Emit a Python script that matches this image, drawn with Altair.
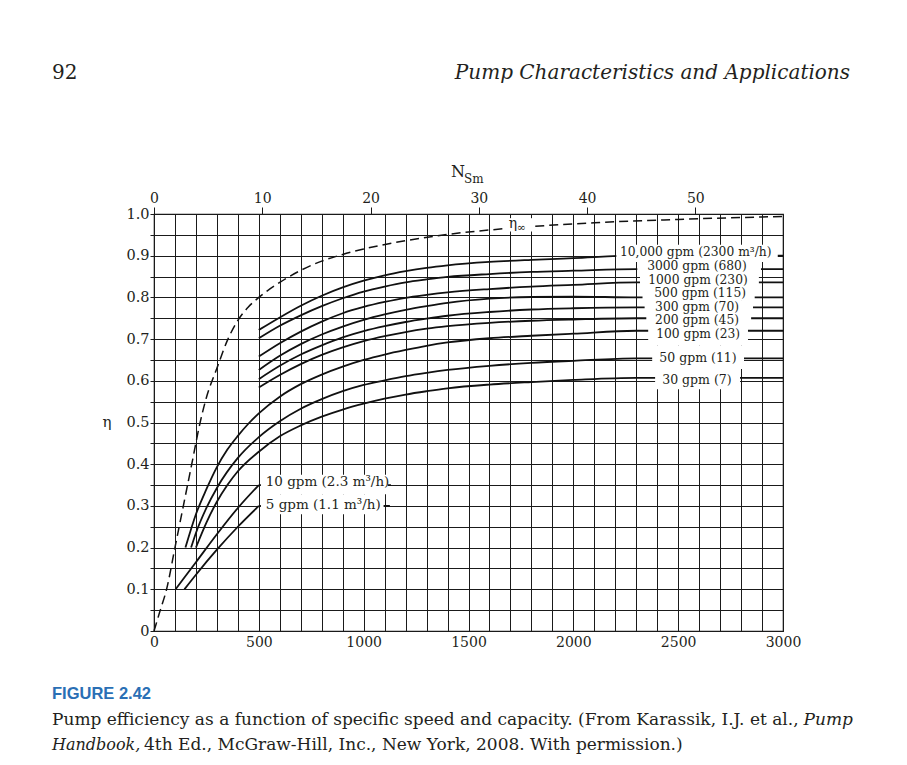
import altair as alt
import pandas as pd

# ---------------- data ----------------
NS_MAX = 3000
NS_PER_NSM = 51.64          # N_S (US units) per N_Sm (SI units)
top_ticks = [0, 10, 20, 30, 40, 50]

ns_upper = [500, 600, 700, 800, 900, 1000, 1100, 1200, 1300, 1400, 1600, 1800, 2000, 2300, 3000]
eta_10000 = [0.722, 0.752, 0.780, 0.804, 0.824, 0.840, 0.853, 0.863, 0.871, 0.877, 0.885, 0.890, 0.894, 0.900, 0.900]
eta_3000 = [0.702, 0.732, 0.757, 0.779, 0.798, 0.814, 0.826, 0.836, 0.843, 0.849, 0.856, 0.861, 0.864, 0.868, 0.868]
eta_1000 = [0.658, 0.690, 0.718, 0.742, 0.762, 0.777, 0.789, 0.799, 0.806, 0.812, 0.820, 0.826, 0.830, 0.836, 0.836]
eta_500 = [0.626, 0.660, 0.688, 0.711, 0.730, 0.746, 0.759, 0.770, 0.779, 0.787, 0.797, 0.801, 0.802, 0.800, 0.800]
eta_300 = [0.604, 0.636, 0.663, 0.685, 0.704, 0.719, 0.731, 0.741, 0.749, 0.756, 0.765, 0.771, 0.774, 0.776, 0.776]
eta_200 = [0.584, 0.614, 0.640, 0.662, 0.680, 0.695, 0.707, 0.717, 0.725, 0.731, 0.739, 0.744, 0.747, 0.750, 0.750]

ns_100 = [150, 200, 250, 300, 350, 400, 450, 500, 600, 700, 800, 900, 1000, 1100, 1200, 1300, 1400, 1600, 1800, 2000, 2300, 3000]
eta_100 = [0.20, 0.28, 0.34, 0.393, 0.435, 0.468, 0.497, 0.522, 0.562, 0.592, 0.615, 0.634, 0.650, 0.663, 0.674, 0.684, 0.692, 0.702, 0.708, 0.713, 0.720, 0.720]

ns_50 = [177, 200, 250, 300, 400, 500, 600, 700, 800, 900, 1000, 1100, 1200, 1300, 1400, 1600, 1800, 2000, 2300, 3000]
eta_50 = [0.20, 0.235, 0.295, 0.343, 0.415, 0.465, 0.503, 0.533, 0.556, 0.575, 0.590, 0.601, 0.611, 0.619, 0.626, 0.636, 0.643, 0.648, 0.654, 0.654]

ns_30 = [200, 250, 300, 350, 400, 500, 600, 700, 800, 900, 1000, 1100, 1200, 1300, 1400, 1600, 1800, 2000, 2300, 3000]
eta_30 = [0.20, 0.26, 0.31, 0.35, 0.383, 0.43, 0.467, 0.493, 0.514, 0.531, 0.545, 0.557, 0.567, 0.575, 0.582, 0.591, 0.597, 0.602, 0.607, 0.607]

ns_10 = [103, 200, 300, 400, 500]
eta_10 = [0.10, 0.165, 0.232, 0.295, 0.35]
ns_5 = [145, 200, 300, 400, 500]
eta_5 = [0.10, 0.135, 0.195, 0.25, 0.30]
# leader lines running on under the small-capacity labels
leader_10_ns = [500, 1130]
leader_10_eta = [0.35, 0.35]
leader_5_ns = [500, 1125]
leader_5_eta = [0.30, 0.30]

ns_inf = [0, 30, 60, 100, 140, 180, 220, 250, 300, 350, 400, 450, 500, 600, 700, 800, 900, 1000, 1200, 1400, 1700, 2100, 2500, 3000]
eta_inf = [0.0, 0.05, 0.10, 0.20, 0.30, 0.40, 0.50, 0.56, 0.63, 0.697, 0.745, 0.777, 0.80, 0.836, 0.865, 0.887, 0.903, 0.916, 0.936, 0.951, 0.966, 0.979, 0.987, 0.994]

curve_labels = ["10,000 gpm (2300 m³/h)", "3000 gpm (680)", "1000 gpm (230)", "500 gpm (115)",
                "300 gpm (70)", "200 gpm (45)", "100 gpm (23)", "50 gpm (11)", "30 gpm (7)",
                "10 gpm (2.3 m³/h)", "5 gpm (1.1 m³/h)"]

# ---------------- tables ----------------
series = [
    ("10000", ns_upper, eta_10000), ("3000", ns_upper, eta_3000), ("1000", ns_upper, eta_1000),
    ("500", ns_upper, eta_500), ("300", ns_upper, eta_300), ("200", ns_upper, eta_200),
    ("100", ns_100, eta_100), ("50", ns_50, eta_50), ("30", ns_30, eta_30),
    ("10", ns_10, eta_10), ("5", ns_5, eta_5),
    ("10 leader", leader_10_ns, leader_10_eta), ("5 leader", leader_5_ns, leader_5_eta),
]
rows = []
for name, xs, ys in series:
    for x, y in zip(xs, ys):
        rows.append({"seg": name, "ns": x, "eta": y})
df_curves = pd.DataFrame(rows)
df_inf = pd.DataFrame({"ns": ns_inf, "eta": eta_inf})

# label layout (positions only): text anchor and white box behind each label
label_x = [2222, 2352, 2357, 2386, 2390, 2390, 2395, 2410, 2424, 533, 533]
label_y = [0.908, 0.875, 0.842, 0.810, 0.777, 0.745, 0.712, 0.654, 0.602, 0.358, 0.302]
label_size = [12.3, 12.3, 12.3, 12.3, 12.3, 12.3, 12.3, 12.5, 12.5, 13.5, 13.5]
box_x0 = [2205, 2305, 2318, 2330, 2340, 2348, 2357, 2376, 2390, 510, 510]
box_x1 = [2975, 2895, 2885, 2865, 2857, 2848, 2833, 2814, 2795, 1115, 1095]
box_y0 = [0.885, 0.858, 0.825, 0.792, 0.760, 0.728, 0.685, 0.628, 0.580, 0.328, 0.280]
box_y1 = [0.926, 0.890, 0.860, 0.827, 0.793, 0.762, 0.732, 0.685, 0.628, 0.375, 0.328]
df_labels = pd.DataFrame({"text": curve_labels, "x": label_x, "y": label_y, "size": label_size})
df_boxes = pd.DataFrame({"x0": box_x0 + [1671], "x1": box_x1 + [1805],
                         "y0": box_y0 + [0.958], "y1": box_y1 + [0.990]})

# ---------------- styling ----------------
SERIF = "DejaVu Serif"
INK = "#231f20"
GRID = "#1a1a1a"
W, H = 629, 417

xscale = alt.Scale(domain=[0, NS_MAX], nice=False, zero=True)
yscale = alt.Scale(domain=[0, 1], nice=False, zero=True)

x_axis = alt.Axis(
    values=list(range(0, NS_MAX + 1, 100)), format="d",
    labelExpr="datum.value % 500 == 0 ? datum.label : ''",
    grid=True, gridColor=GRID, gridWidth=1, gridOpacity=1,
    ticks=False, domain=False, labelPadding=4, labelOverlap=False, labelFlush=False,
    labelFont=SERIF, labelFontSize=14, labelColor=INK, title=None)
y_axis = alt.Axis(
    values=[round(i * 0.05, 2) for i in range(21)],
    labelExpr="round(datum.value*100) % 10 == 0 ? (datum.value == 0 ? '0' : format(datum.value, '.1f')) : ''",
    grid=True, gridColor=GRID, gridWidth=1, gridOpacity=1,
    ticks=True, tickSize=4, tickColor=GRID, domain=False, labelPadding=1,
    labelOverlap=False, labelFlush=False,
    labelFont=SERIF, labelFontSize=14.5, labelColor=INK, title=None)


def X(field, axis=None):
    return alt.X(field, type="quantitative", scale=xscale, axis=axis)


def Y(field):
    return alt.Y(field, type="quantitative", scale=yscale, axis=y_axis)


curves = alt.Chart(df_curves).mark_line(color="#111", strokeWidth=1.8, interpolate="monotone").encode(
    x=X("ns", x_axis), y=Y("eta"), detail="seg:N")

eta_inf_line = alt.Chart(df_inf).mark_line(color="#111", strokeWidth=1.5, strokeDash=[9, 5],
                                           interpolate="monotone").encode(x=X("ns"), y=Y("eta"))

boxes = alt.Chart(df_boxes).mark_rect(fill="white").encode(
    x=X("x0"), x2="x1:Q", y=Y("y0"), y2="y1:Q")

labels = alt.Chart(df_labels).mark_text(align="left", baseline="middle", font=SERIF,
                                        color=INK).encode(
    x=X("x"), y=Y("y"), text="text:N",
    size=alt.Size("size:Q", scale=None, legend=None))

inf_lbl = pd.DataFrame({"t": ["η"], "x": [1712], "y": [0.975]})
inf_sub = pd.DataFrame({"t": ["∞"], "x": [1730], "y": [0.967]})
eta_lbl = alt.Chart(inf_lbl).mark_text(font=SERIF, fontSize=14, color=INK, baseline="middle").encode(
    x=X("x"), y=Y("y"), text="t:N")
eta_sub = alt.Chart(inf_sub).mark_text(font=SERIF, fontSize=11, color=INK, align="left",
                                       baseline="middle").encode(x=X("x"), y=Y("y"), text="t:N")

# top N_Sm axis
top = alt.Chart(pd.DataFrame({"nsm": top_ticks})).mark_point(opacity=0).encode(
    x=alt.X("nsm:Q", scale=alt.Scale(domain=[0, NS_MAX / NS_PER_NSM], nice=False, zero=True),
            axis=alt.Axis(orient="top", values=top_ticks, grid=False, domain=False,
                          tickSize=7, tickColor=GRID, labelPadding=2, labelFont=SERIF,
                          labelFontSize=14, labelColor=INK, title=None, labelFlush=False)))


def note(text, x, y, size, align="left", style="normal", font=SERIF, color=INK, weight="normal",
         baseline="middle"):
    return alt.Chart(pd.DataFrame({"t": [text]})).mark_text(
        align=align, baseline=baseline, font=font, fontSize=size, fontStyle=style,
        fontWeight=weight, color=color).encode(x=alt.value(x), y=alt.value(y), text="t:N")


notes = [
    note("N", 304, -42, 16, align="center"),
    note("Sm", 310, -35, 12),
    note("η", -47, 208, 15, align="center"),
    note("92", -102, -141, 20),
    note("Pump Characteristics and Applications", 696, -141, 20, align="right", style="italic"),
    note("FIGURE 2.42", -102, 480, 16.5, font="Liberation Sans Narrow, Liberation Sans",
         color="#2a6fb5", weight="bold"),
    note("Pump efficiency as a function of specific speed and capacity. (From Karassik, I.J. et al.,",
         -102, 506, 17),
    note("Pump", 699, 506, 17, align="right", style="italic"),
    note("Handbook,", -102, 531, 16, style="italic"),
    note("4th Ed., McGraw-Hill, Inc., New York, 2008. With permission.)", -10, 531, 17),
]

chart = alt.layer(curves, eta_inf_line, boxes, labels, eta_lbl, eta_sub, top, *notes).resolve_scale(
    x="independent"
).properties(
    width=W, height=H,
    autosize=alt.AutoSizeParams(type="none"),
    padding={"left": 146, "top": 206, "right": 110, "bottom": 124},
    background="white",
).configure_view(stroke=GRID, strokeWidth=1.2)

chart.save("out.html", embed_options={"renderer": "svg", "actions": False})
